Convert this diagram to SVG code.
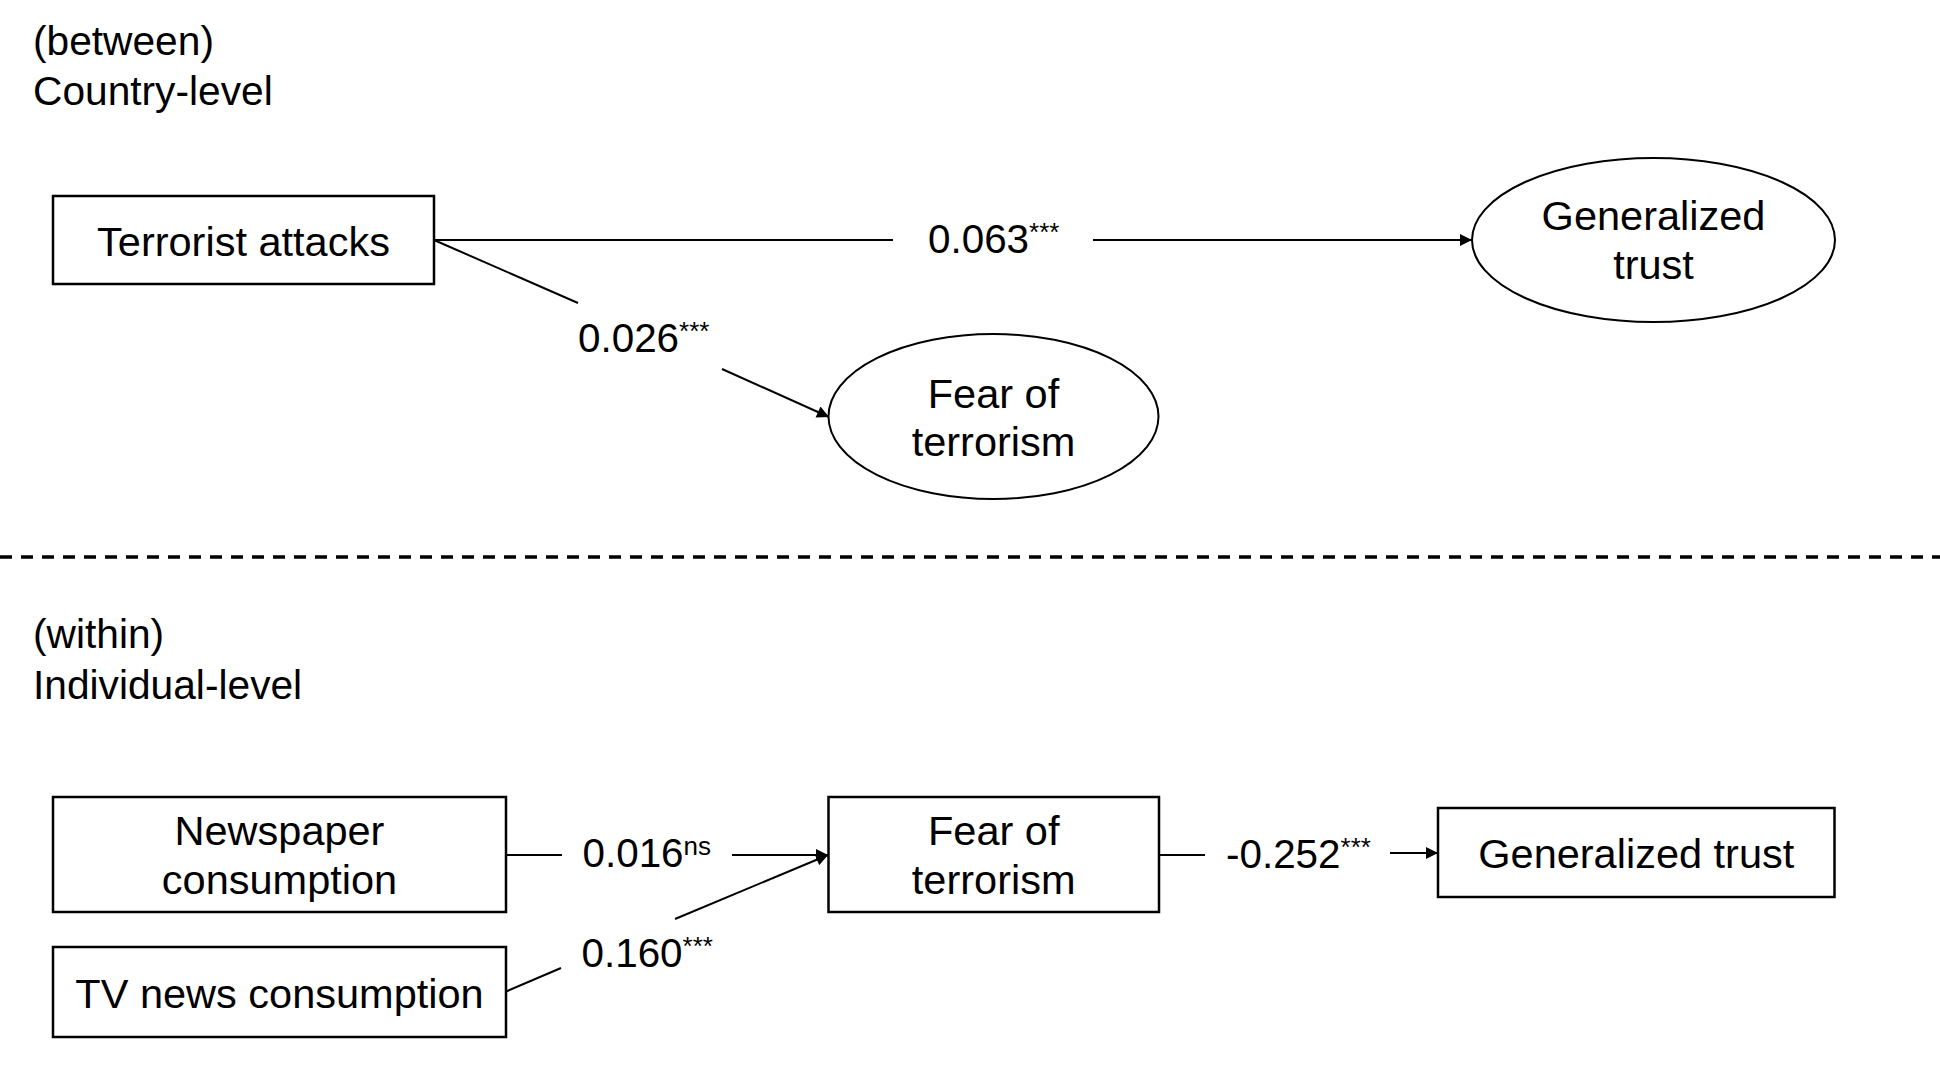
<svg xmlns="http://www.w3.org/2000/svg" width="1940" height="1073" viewBox="0 0 1940 1073">
<style>
text{font-family:"Liberation Sans",Arial,sans-serif;fill:#000}
.t{font-size:40.7px}
.n{font-size:41.5px;text-anchor:middle}
.lab{font-size:40.4px}
.sup{font-size:26px}
.box{fill:#fff;stroke:#000;stroke-width:2.5}
.ell{fill:#fff;stroke:#000;stroke-width:2}
.c{stroke:#000;stroke-width:2;fill:none}
</style>
<defs>
<marker id="ah" viewBox="0 0 10 10" refX="10" refY="5" markerWidth="14" markerHeight="12" markerUnits="userSpaceOnUse" orient="auto">
<path d="M0,0 L10,5 L0,10 z" fill="#000"/>
</marker>
</defs>
<rect width="1940" height="1073" fill="#fff"/>
<g id="titles">
<text class="t" x="33" y="55">(between)</text>
<text class="t" x="33" y="105">Country-level</text>
<text class="t" x="33" y="648">(within)</text>
<text class="t" x="33" y="699">Individual-level</text>
</g>
<line id="divider" x1="0" y1="557" x2="1940" y2="557" stroke="#000" stroke-width="3.5" stroke-dasharray="12 9"/>
<g id="connectors">
<line class="c" x1="434" y1="240" x2="893" y2="240"/>
<line class="c" x1="1093" y1="240" x2="1472" y2="240" marker-end="url(#ah)"/>
<line class="c" x1="434" y1="240" x2="578" y2="303"/>
<line class="c" x1="722" y1="369" x2="829" y2="417" marker-end="url(#ah)"/>
<line class="c" x1="506" y1="855" x2="562" y2="855"/>
<line class="c" x1="732" y1="855" x2="828" y2="855" marker-end="url(#ah)"/>
<line class="c" x1="506" y1="991.5" x2="561" y2="968"/>
<line class="c" x1="675" y1="919" x2="828" y2="855" marker-end="url(#ah)"/>
<line class="c" x1="1159" y1="855" x2="1205" y2="855"/>
<line class="c" x1="1390" y1="853" x2="1438" y2="853" marker-end="url(#ah)"/>
<text class="lab" x="928" y="253">0.063<tspan class="sup" dy="-12">***</tspan></text>
<text class="lab" x="578" y="352">0.026<tspan class="sup" dy="-12">***</tspan></text>
<text class="lab" x="582.5" y="867">0.016<tspan class="sup" dy="-12">ns</tspan></text>
<text class="lab" x="581.5" y="966.5">0.160<tspan class="sup" dy="-12">***</tspan></text>
<text class="lab" x="1226" y="868">-0.252<tspan class="sup" dy="-12">***</tspan></text>
</g>
<g id="terrorist-attacks">
<rect class="box" x="53" y="196" width="381" height="88"/>
<text class="n" x="243.5" y="256">Terrorist attacks</text>
</g>
<g id="generalized-trust-between">
<ellipse class="ell" cx="1653.5" cy="240" rx="181.5" ry="82"/>
<text class="n" x="1653.5" y="230">Generalized</text>
<text class="n" x="1653.5" y="279">trust</text>
</g>
<g id="fear-between">
<ellipse class="ell" cx="993.5" cy="416.5" rx="165" ry="82.5"/>
<text class="n" x="993.5" y="408">Fear of</text>
<text class="n" x="993.5" y="456">terrorism</text>
</g>
<g id="newspaper">
<rect class="box" x="53" y="797" width="453" height="115"/>
<text class="n" x="279.5" y="844.5">Newspaper</text>
<text class="n" x="279.5" y="893.5">consumption</text>
</g>
<g id="tv-news">
<rect class="box" x="53" y="947" width="453" height="90"/>
<text class="n" x="279.5" y="1008">TV news consumption</text>
</g>
<g id="fear-within">
<rect class="box" x="828.5" y="797" width="330.5" height="115"/>
<text class="n" x="993.7" y="844.5">Fear of</text>
<text class="n" x="993.7" y="893.5">terrorism</text>
</g>
<g id="generalized-trust-within">
<rect class="box" x="1438" y="808" width="396.5" height="89"/>
<text class="n" x="1636.3" y="868">Generalized trust</text>
</g>
</svg>
